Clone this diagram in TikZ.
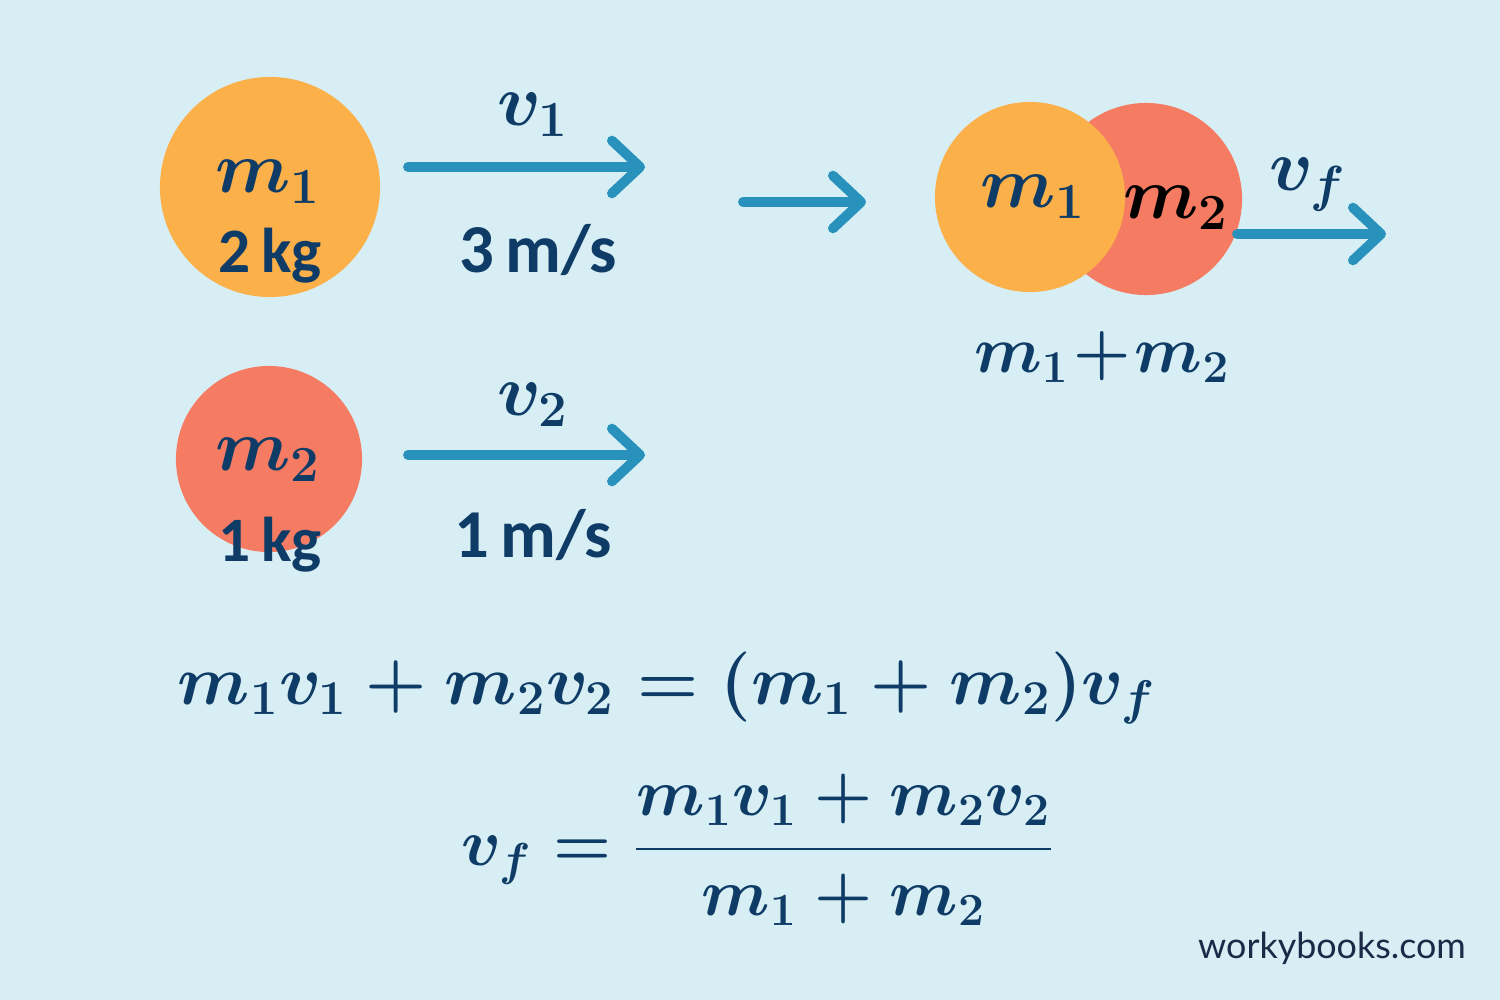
\documentclass[tikz,border=0pt]{standalone}
\usepackage{fontspec}
\usepackage{amsmath}
\usetikzlibrary{arrows.meta}
\setsansfont{Lato}
\newfontfamily\unitfont{Carlito}

\definecolor{bgblue}{HTML}{D7EEF4}
\definecolor{ballorange}{HTML}{FBB04A}
\definecolor{ballred}{HTML}{F57C63}
\definecolor{flowblue}{HTML}{2891BC}
\definecolor{ink}{HTML}{0F3C66}
\definecolor{urlink}{HTML}{1B2A47}

\begin{document}
\begin{tikzpicture}[x=0.01cm,y=-0.01cm,
	ball/.style={circle,inner sep=0pt},
	mass/.style={text=ink,font=\fontsize{20.74}{26}\selectfont\boldmath},
	formula/.style={mass,transform shape,scale=#1},
	unit/.style={text=ink,font=\unitfont\bfseries\fontsize{18}{22}\selectfont},
	speed/.style={text=ink,font=\unitfont\bfseries\fontsize{19.5}{24}\selectfont},
	flow/.style={draw=flowblue,line width=2.8pt,line cap=round,
		-{Straight Barb[length=8pt,width=15pt,round]}}]
	\fill[bgblue] (0,0) rectangle (1500,1000);
	\useasboundingbox (0,0) rectangle (1500,1000);

	% before the collision
	\node[ball,fill=ballorange,minimum size=2.2cm] (b1) at (270,187) {};
	\node[mass] (m1) at (268,182) {$m_1$};
	\node[unit] (w1) at (270,256) {2\,kg};
	\coordinate (a1s) at (408,167);
	\coordinate (a1e) at (645,167);
	\draw[flow] (a1s) -- (a1e);
	\node[mass] (v1) at (533,115) {$v_1$};
	\node[speed] (s1) at (538,250) {3\,m/s};

	\node[ball,fill=ballred,minimum size=1.86cm] (b2) at (269,459) {};
	\node[mass] (m2) at (268,460) {$m_2$};
	\node[unit] (w2) at (270,545) {1\,kg};
	\coordinate (a2s) at (408,455);
	\coordinate (a2e) at (645,455);
	\draw[flow] (a2s) -- (a2e);
	\node[mass] (v2) at (533,405) {$v_2$};
	\node[speed] (s2) at (533,535) {1\,m/s};

	\coordinate (as) at (743,202);
	\coordinate (ae) at (866,202);
	\draw[flow] (as) -- (ae);

	% after the collision
	\node[ball,fill=ballred,minimum size=1.92cm] (b4) at (1146,199) {};
	\node[ball,fill=ballorange,minimum size=1.9cm] (b3) at (1030,197) {};
	\node[mass] (m3) at (1033,197) {$m_1$};
	\node[mass,text=black] (m4) at (1176,208) {$m_2$};
	\coordinate (afs) at (1237,234);
	\coordinate (afe) at (1386,234);
	\draw[flow] (afs) -- (afe);
	\node[mass] (vf) at (1308,185) {$v_f$};
	\node[formula=0.9] (msum) at (1102,357) {$m_1\mkern1mu{+}\mkern1mu m_2$};

	% momentum equations
	\node[formula=0.96] (eq1) at (667,688) {$m_1v_1+m_2v_2=(m_1+m_2)v_f$};
	\node[formula=0.91] (eq2) at (758,850) {$v_f=\dfrac{m_1v_1+m_2v_2}{m_1+m_2}$};

	\node[text=urlink,font=\sffamily\fontsize{10.2}{12}\selectfont] (url) at (1332,948) {workybooks.com};
\end{tikzpicture}
\end{document}
